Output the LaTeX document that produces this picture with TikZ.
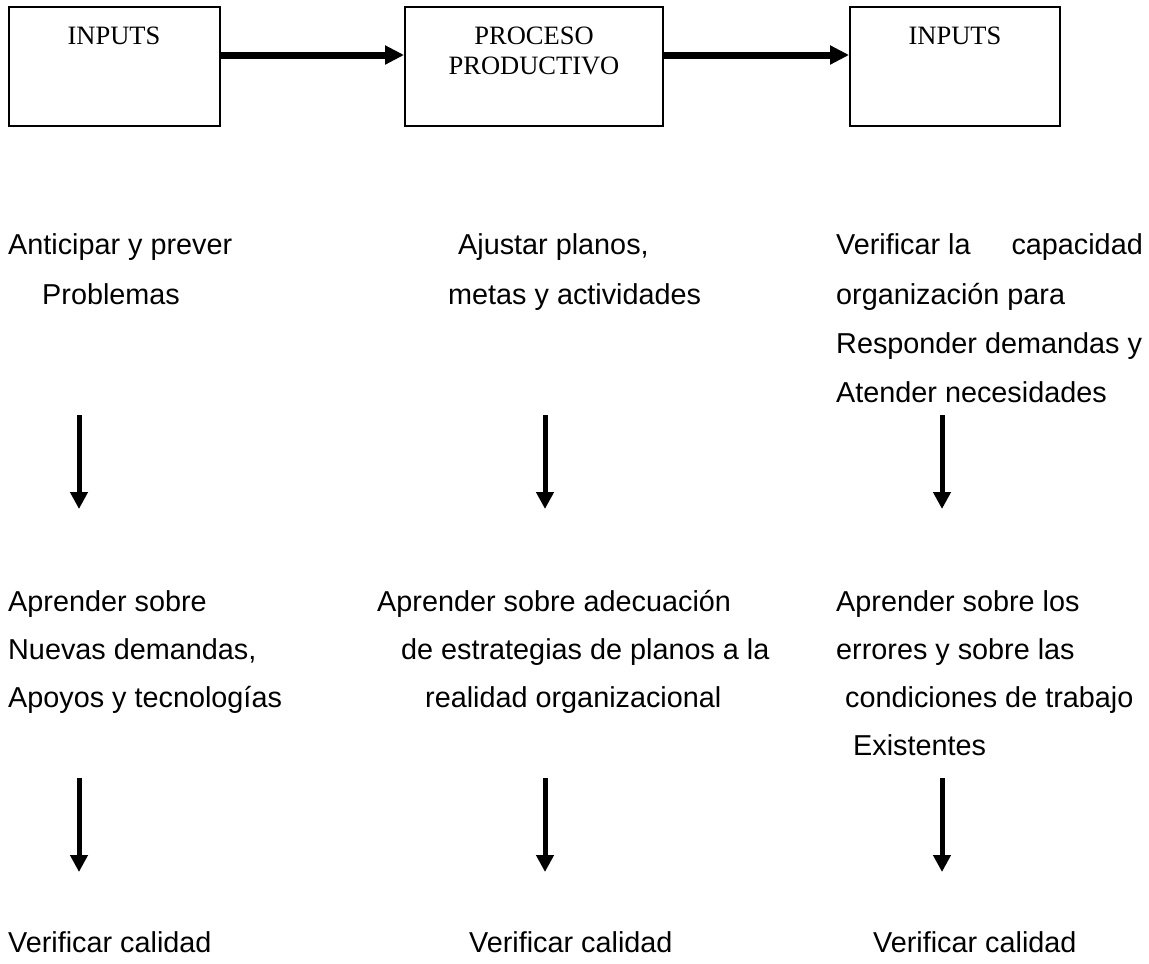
\documentclass[tikz,border=0pt]{standalone}
\usepackage{fontspec}
\setmainfont{Liberation Sans}
\newfontfamily\boxfont{Liberation Serif}
\usetikzlibrary{arrows.meta}
\begin{document}
\begin{tikzpicture}[x=1pt,y=-1pt,
  procbox/.style={draw,line width=1.8pt,inner sep=0pt},
  boxtxt/.style={inner sep=0pt,anchor=base,font=\boxfont\fontsize{26.5}{30}\selectfont},
  txt/.style={inner sep=0pt,anchor=base west,font=\fontsize{28.8}{34}\selectfont},
  harrow/.style={line width=7pt,-{Triangle[length=19pt,width=18pt]}},
  varrow/.style={line width=5pt,-{Triangle[length=17pt,width=17pt]}}]
\useasboundingbox (0,0) rectangle (1149,964);
% boxes
\node[procbox,minimum width=211pt,minimum height=119pt] (b1) at (114.5,66.5) {};
\node[procbox,minimum width=258pt,minimum height=119pt] (b2) at (534,66.5) {};
\node[procbox,minimum width=210pt,minimum height=119pt] (b3) at (955,66.5) {};
\node[boxtxt] (t1) at (114,44) {INPUTS};
\node[boxtxt] (t2a) at (534,44) {PROCESO};
\node[boxtxt] (t2b) at (534,74) {PRODUCTIVO};
\node[boxtxt] (t3) at (955,44) {INPUTS};
\draw[harrow] ([yshift=11.5pt]b1.east) -- ([yshift=11.5pt]b2.west);
\draw[harrow] ([yshift=11.5pt]b2.east) -- ([yshift=11.5pt]b3.west);
% first row texts
\node[txt] (c1a) at (8,254) {Anticipar y prever};
\node[txt] (c1b) at (42,304) {Problemas};
\node[txt] (c2a) at (458,254) {Ajustar planos,};
\node[txt] (c2b) at (448,304) {metas y actividades};
\node[txt] (c3a) at (836,254) {Verificar la};
\node[txt,anchor=base east] (c3a2) at (1143,254) {capacidad};
\node[txt] (c3b) at (836,304) {organización para};
\node[txt] (c3c) at (836,353) {Responder demandas y};
\node[txt] (c3d) at (836,402) {Atender necesidades};
% arrows row 1
\coordinate (v1s) at (79,415); \coordinate (v1e) at (79,509);
\coordinate (v2s) at (545,415); \coordinate (v2e) at (545,509);
\coordinate (v3s) at (942,415); \coordinate (v3e) at (942,509);
\draw[varrow] (v1s) -- (v1e);
\draw[varrow] (v2s) -- (v2e);
\draw[varrow] (v3s) -- (v3e);
% second row texts
\node[txt] (d1a) at (8,611) {Aprender sobre};
\node[txt] (d1b) at (8,659) {Nuevas demandas,};
\node[txt] (d1c) at (8,707) {Apoyos y tecnologías};
\node[txt] (d2a) at (377,611) {Aprender sobre adecuación};
\node[txt] (d2b) at (401,659) {de estrategias de planos a la};
\node[txt] (d2c) at (425,707) {realidad organizacional};
\node[txt] (d3a) at (836,611) {Aprender sobre los};
\node[txt] (d3b) at (836,659) {errores y sobre las};
\node[txt] (d3c) at (845,707) {condiciones de trabajo};
\node[txt] (d3d) at (853,755) {Existentes};
% arrows row 2
\coordinate (w1s) at (79,778); \coordinate (w1e) at (79,872);
\coordinate (w2s) at (545,778); \coordinate (w2e) at (545,872);
\coordinate (w3s) at (942,778); \coordinate (w3e) at (942,872);
\draw[varrow] (w1s) -- (w1e);
\draw[varrow] (w2s) -- (w2e);
\draw[varrow] (w3s) -- (w3e);
% bottom texts
\node[txt] (e1) at (8,952) {Verificar calidad};
\node[txt] (e2) at (469,952) {Verificar calidad};
\node[txt] (e3) at (873,952) {Verificar calidad};
\end{tikzpicture}
\end{document}
